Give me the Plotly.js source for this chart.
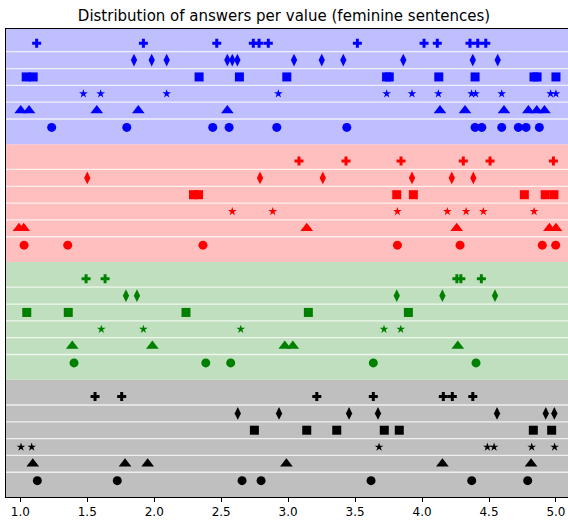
<!DOCTYPE html>
<html>
<head>
<meta charset="utf-8">
<script src="https://cdn.plot.ly/plotly-3.0.1.min.js"></script>
<style>html,body{margin:0;padding:0;background:#fff;}#chart{width:568px;height:525px;}</style>
</head>
<body>
<div id="chart"></div>
<script>
// ---- data (answer values) ----
const xTicks = [1.0, 1.5, 2.0, 2.5, 3.0, 3.5, 4.0, 4.5, 5.0];
const xTickLabels = ['1.0', '1.5', '2.0', '2.5', '3.0', '3.5', '4.0', '4.5', '5.0'];

// blue group
const blueCircle   = [1.234, 1.795, 2.437, 2.559, 2.915, 3.438, 4.396, 4.446, 4.595, 4.719, 4.777, 4.876];
const blueTriangle = [1.003, 1.065, 1.571, 1.881, 2.546, 4.134, 4.321, 4.612, 4.794, 4.857, 4.914];
const blueStar     = [1.471, 1.600, 2.093, 2.927, 3.736, 3.925, 4.122, 4.37, 4.40, 4.595, 4.96, 5.0];
const blueSquare   = [1.044, 1.096, 2.335, 2.636, 2.99, 3.735, 3.755, 4.125, 4.396, 4.836, 4.859, 5.0];
const blueDiamond  = [1.849, 1.981, 2.093, 2.546, 2.583, 2.621, 3.044, 3.251, 3.412, 3.860, 4.379, 4.565];
const bluePlus     = [1.122, 1.919, 2.467, 2.740, 2.783, 2.852, 3.517, 4.015, 4.114, 4.358, 4.416, 4.476];

// red group
const redCircle   = [1.028, 1.354, 2.364, 3.816, 4.284, 4.898, 4.998];
const redTriangle = [0.99, 1.025, 3.139, 4.259, 4.951, 5.0];
const redStar     = [2.583, 2.885, 3.816, 4.189, 4.329, 4.458, 4.837];
const redSquare   = [2.293, 2.331, 3.811, 3.935, 4.764, 4.92, 4.985];
const redDiamond  = [1.500, 2.790, 3.259, 3.925, 4.222, 4.383];
const redPlus     = [3.081, 3.432, 3.843, 4.308, 4.508, 4.981];

// green group
const greenCircle   = [1.401, 2.385, 2.571, 3.636, 4.403];
const greenTriangle = [1.388, 1.986, 2.975, 3.035, 4.267];
const greenStar     = [1.605, 1.919, 2.646, 3.716, 3.841];
const greenSquare   = [1.048, 1.358, 2.237, 3.151, 3.898];
const greenDiamond  = [1.789, 1.871, 3.811, 4.152, 4.545];
const greenPlus     = [1.491, 1.633, 4.26, 4.29, 4.443];

// black group
const blackCircle   = [1.127, 1.724, 2.656, 2.798, 3.619, 4.371, 4.789];
const blackTriangle = [1.093, 1.782, 1.951, 2.987, 4.152, 4.814];
const blackStar     = [1.005, 1.085, 3.679, 4.488, 4.538, 4.819, 4.99];
const blackSquare   = [2.748, 3.139, 3.363, 3.718, 3.830, 4.831, 4.968];
const blackDiamond  = [2.624, 2.932, 3.455, 3.671, 4.560, 4.924, 4.988];
const blackPlus     = [1.558, 1.757, 3.214, 3.636, 4.159, 4.226, 4.379];

// ---- build ----
// rows bottom -> top inside each group
const rowSymbols = ['circle', 'triangle-up', 'star', 'square', 'diamond-tall', 'cross'];
const rowSizes   = [9, 11, 6.5, 9, 9, 7.5];

const groupDefs = [
  {rows: [blackCircle, blackTriangle, blackStar, blackSquare, blackDiamond, blackPlus], color: '#000000', band: 'rgb(191,191,191)'},
  {rows: [greenCircle, greenTriangle, greenStar, greenSquare, greenDiamond, greenPlus], color: '#008000', band: 'rgb(191,223,191)'},
  {rows: [redCircle, redTriangle, redStar, redSquare, redDiamond, redPlus], color: '#ff0000', band: 'rgb(255,191,191)'},
  {rows: [blueCircle, blueTriangle, blueStar, blueSquare, blueDiamond, bluePlus], color: '#0000ff', band: 'rgb(191,191,255)'}
];
const groupStep = 7;

const traces = [];
const bandShapes = [];
const lineShapes = [];
groupDefs.forEach((g, gi) => {
  const off = gi * groupStep;
  bandShapes.push({type: 'rect', xref: 'paper', x0: 0, x1: 1, yref: 'y', y0: off - 1, y1: off + 6,
                   fillcolor: g.band, line: {width: 0}, layer: 'below'});
  for (let i = 0; i < 5; i++) {
    lineShapes.push({type: 'line', xref: 'paper', x0: 0, x1: 1, yref: 'y', y0: off + i + 0.5, y1: off + i + 0.5,
                     line: {color: 'rgba(255,255,255,0.75)', width: 1.3}, layer: 'below'});
  }
  g.rows.forEach((vals, ri) => {
    traces.push({
      type: 'scatter', mode: 'markers',
      x: vals, y: vals.map(() => off + ri),
      marker: {symbol: rowSymbols[ri], size: rowSizes[ri], color: g.color, line: {width: 0}},
      showlegend: false, hoverinfo: 'skip', cliponaxis: false
    });
  });
});

const layout = {
  width: 568, height: 525,
  margin: {l: 6, r: 0, t: 29, b: 28, pad: 0},
  paper_bgcolor: '#ffffff', plot_bgcolor: '#ffffff',
  font: {family: 'DejaVu Sans, sans-serif', color: '#000000'},
  title: {text: 'Distribution of answers per value (feminine sentences)',
          font: {family: 'DejaVu Sans, sans-serif', size: 15, color: '#000000'},
          x: 0.5, xanchor: 'center', yref: 'container', y: 1 - 15.5 / 525, yanchor: 'middle'},
  xaxis: {range: [0.893, 5.09], tickvals: xTicks, ticktext: xTickLabels,
          ticks: 'outside', ticklen: 4, tickwidth: 1, tickcolor: '#000000',
          tickfont: {family: 'DejaVu Sans, sans-serif', size: 12, color: '#000000'},
          showgrid: false, zeroline: false, showline: true, mirror: true,
          linecolor: '#000000', linewidth: 1},
  yaxis: {range: [-0.97, 26.85], showticklabels: false, ticks: '', showgrid: false, zeroline: false,
          showline: true, mirror: false, linecolor: '#000000', linewidth: 1},
  shapes: bandShapes.concat(lineShapes),
  hovermode: false,
  showlegend: false
};

Plotly.newPlot('chart', traces, layout, {staticPlot: true, displayModeBar: false});
</script>
</body>
</html>
